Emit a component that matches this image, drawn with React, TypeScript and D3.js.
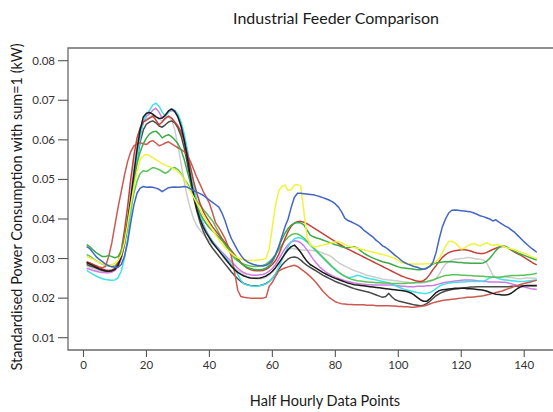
import React from "react";
import * as d3 from "d3";

// Standardised half-hourly load profiles, values in units of 1e-3 (kW, sum = 1)
const blue = [
  33.0,32.5,31.5,30.5,29.8,29.2,28.6,28.2,27.9,27.8,27.8,28.5,
  30.5,34.0,39.0,43.5,46.5,47.8,48.2,48.0,48.1,48.0,47.8,47.5,
  46.9,47.4,47.9,48.0,48.1,48.0,48.1,48.2,48.0,47.6,47.2,46.8,
  46.4,46.0,45.4,44.8,44.2,43.6,43.0,41.5,39.5,37.0,35.0,33.5,
  32.0,30.8,29.8,29.2,28.8,28.5,28.3,28.2,28.1,28.3,28.8,29.6,
  31.0,33.0,35.5,38.0,40.0,43.0,45.5,46.5,46.5,46.4,46.3,46.2,
  46.1,45.9,45.7,45.4,45.1,44.8,44.4,43.8,43.0,41.8,40.2,39.6,
  39.3,38.9,38.5,38.0,37.2,36.6,36.0,35.4,34.6,34.0,33.2,32.8,
  32.2,31.5,30.8,30.2,29.5,29.0,28.6,28.3,28.0,27.8,27.5,27.3,
  27.5,28.0,29.0,31.5,35.0,38.0,40.0,41.5,42.2,42.3,42.2,42.1,
  42.0,41.9,41.8,41.5,41.2,40.8,40.6,40.3,40.0,39.5,39.8,39.2,
  38.7,38.2,37.8,37.2,36.6,35.8,35.0,34.2,33.5,32.8,32.2,31.6,
];
const yellow = [
  30.5,30.2,29.8,29.4,29.0,28.7,28.5,28.4,28.5,28.8,29.5,31.0,
  34.0,38.5,43.5,48.0,52.0,55.0,56.0,56.3,56.0,55.5,55.0,54.5,
  54.0,53.6,53.3,53.0,52.5,52.0,51.2,50.0,48.5,47.0,45.5,44.0,
  42.5,41.0,39.8,38.5,37.2,36.0,34.8,33.8,32.8,32.0,31.3,30.7,
  30.2,29.9,29.7,29.6,29.5,29.5,29.6,29.7,29.8,30.0,32.5,38.0,
  43.5,47.0,48.2,48.6,47.2,47.4,48.6,48.7,48.3,42.0,35.5,33.5,
  33.0,33.0,33.2,33.4,33.6,33.8,34.0,34.2,34.3,34.0,33.5,33.2,
  33.0,32.8,32.6,32.4,32.2,32.0,31.8,31.6,31.4,31.2,31.0,30.8,
  30.6,30.3,30.0,29.5,29.0,28.8,28.7,28.6,28.6,28.6,28.6,28.6,
  28.7,28.7,28.8,29.3,30.0,31.5,33.0,34.3,34.4,34.0,33.2,32.4,
  32.6,33.2,33.6,33.8,33.5,33.2,33.6,34.0,33.6,33.3,33.5,33.4,
  33.2,32.9,32.6,32.4,32.2,31.9,31.6,31.3,31.0,30.6,30.3,30.0,
];
const redLow = [
  29.0,28.8,28.5,28.2,27.9,27.7,28.0,30.5,34.0,38.5,43.0,47.0,
  51.0,54.5,57.0,58.5,59.0,59.3,59.0,58.8,59.5,59.8,59.2,58.5,
  58.8,59.2,59.5,59.0,58.5,58.0,57.5,57.0,56.0,54.5,52.5,50.5,
  48.8,47.0,45.5,44.0,41.5,39.0,37.8,36.5,35.0,33.0,30.5,26.5,
  22.0,20.4,20.2,20.1,20.0,20.0,20.0,20.0,20.0,20.2,23.0,24.0,
  25.5,26.8,27.3,27.6,27.9,28.1,28.3,28.0,27.4,26.8,26.2,25.5,
  24.7,23.8,22.8,21.8,21.0,20.2,19.6,19.1,18.8,18.6,18.5,18.4,
  18.4,18.3,18.3,18.3,18.3,18.2,18.2,18.2,18.1,18.1,18.1,18.1,
  18.1,18.0,18.0,17.9,17.9,17.8,17.8,17.7,17.7,17.8,17.9,18.0,
  18.2,18.5,18.8,19.0,19.2,19.4,19.5,19.6,19.7,19.8,19.9,20.0,
  20.1,20.2,20.2,20.3,20.4,20.5,20.6,20.8,21.0,21.2,21.4,21.6,
  21.8,22.1,22.4,22.7,23.0,23.2,23.5,23.7,23.9,24.1,24.3,24.5,
];
const redHigh = [
  29.2,28.9,28.5,28.1,27.7,27.4,27.1,27.0,27.1,27.5,29.0,32.0,
  37.0,43.0,50.0,56.0,60.5,63.0,64.5,65.0,65.5,66.0,65.0,63.8,
  64.5,65.5,66.0,65.5,64.5,63.5,62.0,59.5,56.5,53.0,49.5,46.5,
  44.0,42.0,40.5,39.2,38.0,37.0,36.0,35.0,34.0,33.0,32.0,31.0,
  30.0,29.0,28.2,27.6,27.2,27.0,26.9,26.9,27.0,27.3,27.8,28.5,
  29.5,31.0,33.0,35.0,36.8,38.2,39.0,39.3,39.4,39.2,38.8,38.3,
  37.8,37.3,36.8,36.3,35.8,35.3,34.8,34.3,33.8,33.3,32.8,32.4,
  32.0,31.6,31.2,30.8,30.4,30.0,29.6,29.2,28.8,28.4,28.0,27.6,
  27.2,26.8,26.4,26.0,25.6,25.3,25.0,24.8,24.5,24.3,24.2,24.4,
  25.0,26.0,27.2,28.2,29.3,30.3,31.0,31.5,31.8,32.0,32.1,32.2,
  32.2,32.1,31.9,31.6,31.4,31.3,31.3,31.5,31.9,32.3,32.6,32.9,
  33.1,33.0,32.6,32.1,31.6,31.2,30.8,30.3,29.8,29.3,28.8,28.4,
];
const green = [
  33.5,33.0,32.2,31.5,31.0,30.5,30.5,30.8,30.5,30.2,30.5,32.0,
  35.0,39.5,44.5,49.5,54.0,57.0,59.0,60.5,61.5,62.0,62.2,61.5,
  60.5,61.0,61.3,60.8,60.0,59.0,57.5,55.0,52.0,49.0,46.0,43.5,
  41.5,40.0,38.8,37.8,37.0,36.2,35.4,34.6,33.6,32.6,31.6,30.6,
  29.6,28.8,28.2,27.8,27.5,27.3,27.2,27.2,27.3,27.6,28.2,29.2,
  30.8,32.8,34.8,36.4,37.6,38.5,38.9,39.1,39.0,38.5,37.2,36.0,
  35.5,35.2,35.0,34.7,34.4,34.1,33.8,33.5,33.3,33.0,32.8,32.7,
  32.9,33.0,32.6,32.0,31.4,30.9,30.5,30.1,29.8,29.5,29.2,29.0,
  28.8,28.5,28.2,27.9,27.7,27.6,27.5,27.4,27.3,27.2,27.2,27.3,
  27.6,28.1,28.6,28.9,29.0,29.1,29.2,29.2,29.2,29.1,29.0,29.0,
  28.9,28.9,28.8,28.8,28.8,28.8,28.9,29.3,30.0,31.0,32.0,32.8,
  33.2,33.1,32.7,32.2,31.8,31.4,31.1,30.8,30.5,30.2,29.9,29.6,
];
const lightGreen = [
  31.0,30.6,30.0,29.5,29.0,28.6,28.3,28.1,28.0,28.2,29.0,31.0,
  34.0,38.0,42.5,46.5,49.5,51.5,52.2,52.0,52.5,53.0,52.8,52.5,
  52.0,51.5,52.0,52.8,53.0,52.5,51.5,50.0,49.0,47.5,46.0,44.5,
  43.5,42.5,41.5,40.5,39.5,38.0,36.5,35.0,33.5,32.2,31.0,30.0,
  29.4,28.9,28.6,28.3,28.1,28.0,28.0,28.1,28.3,28.6,29.2,30.0,
  31.0,32.2,33.4,34.5,35.4,36.0,36.3,36.2,35.8,35.2,34.4,33.6,
  32.8,32.0,31.2,30.4,29.6,28.8,28.0,27.3,26.6,26.0,25.5,25.1,
  24.8,24.6,24.4,24.3,24.2,24.1,24.0,24.0,23.9,23.9,23.8,23.8,
  23.8,23.7,23.7,23.7,23.7,23.7,23.8,23.8,23.9,24.0,24.0,24.1,
  24.2,24.4,24.6,24.9,25.2,25.5,25.7,25.8,25.9,25.9,25.9,25.8,
  25.8,25.7,25.7,25.6,25.6,25.5,25.5,25.4,25.4,25.3,25.3,25.3,
  25.4,25.5,25.6,25.7,25.7,25.7,25.8,25.8,25.9,26.0,26.1,26.3,
];
const cyan = [
  27.0,26.5,26.0,25.6,25.2,24.9,24.7,24.6,24.5,24.6,25.2,26.8,
  30.0,35.0,41.0,48.0,55.0,60.5,64.5,66.5,67.5,68.8,69.3,68.5,
  67.0,66.0,67.0,67.8,67.5,66.5,64.5,61.5,57.5,53.0,48.5,44.5,
  41.0,38.5,36.8,35.5,34.3,33.2,32.2,31.2,30.3,29.4,28.5,27.5,
  26.0,24.5,23.6,23.3,23.1,23.0,23.0,23.1,23.3,23.6,24.2,25.0,
  26.2,27.8,29.6,31.4,33.0,34.2,35.0,35.3,35.2,34.8,34.2,33.4,
  32.6,31.8,31.0,30.2,29.4,28.6,27.8,27.1,26.5,26.0,25.6,25.3,
  25.2,25.5,25.8,25.6,25.3,25.1,24.9,24.8,24.6,24.4,24.2,24.0,
  23.8,23.5,23.2,22.8,22.5,22.2,22.0,21.8,21.6,21.4,21.3,21.2,
  21.2,21.4,21.8,22.4,23.0,23.4,23.6,23.8,23.9,24.0,24.0,24.1,
  24.1,24.2,24.2,24.2,24.2,24.2,24.3,24.6,25.1,25.4,25.2,24.9,
  24.7,24.6,24.5,24.4,24.3,24.2,24.2,24.2,24.3,24.4,24.5,24.6,
];
const magenta = [
  27.5,27.3,27.0,26.8,26.6,26.5,26.4,26.4,26.6,27.0,28.0,30.0,
  33.5,38.5,44.5,51.0,57.0,61.5,64.5,66.0,66.5,67.5,68.0,67.0,
  65.5,66.0,67.0,67.5,67.0,65.8,63.5,60.0,56.0,51.5,47.5,44.0,
  41.0,38.8,37.0,35.6,34.4,33.4,32.5,31.6,30.8,30.0,29.2,28.4,
  27.6,26.9,26.4,26.1,25.9,25.8,25.8,25.9,26.0,26.3,26.8,27.5,
  28.5,29.8,31.2,32.5,33.5,34.2,34.5,34.4,34.0,33.2,32.2,31.0,
  29.8,28.8,27.9,27.2,26.6,26.1,25.7,25.3,25.0,24.7,24.4,24.2,
  24.0,23.8,23.7,23.6,23.5,23.4,23.4,23.3,23.3,23.3,23.3,23.3,
  23.3,23.3,23.2,23.1,23.0,23.0,22.9,22.9,22.9,23.0,23.0,23.0,
  23.1,23.1,23.2,23.4,23.6,23.8,24.0,24.1,24.2,24.3,24.4,24.5,
  24.6,24.6,24.6,24.5,24.4,24.3,24.2,24.2,24.1,24.1,24.1,24.1,
  24.0,24.0,23.8,23.6,23.4,23.2,23.0,22.8,22.6,22.4,22.3,22.2,
];
const black = [
  29.0,28.6,28.2,27.8,27.4,27.1,26.9,26.8,26.9,27.3,28.3,30.5,
  34.0,39.0,45.0,51.5,57.5,62.5,65.8,66.7,66.9,66.5,65.8,65.4,
  65.5,66.3,67.3,67.8,67.2,65.8,63.5,60.0,55.5,50.5,46.0,42.5,
  40.0,38.0,36.5,35.2,34.0,33.0,32.0,31.0,30.0,29.0,28.0,27.2,
  26.5,26.0,25.6,25.3,25.1,25.0,25.0,25.1,25.3,25.6,26.1,26.8,
  27.7,28.8,30.0,31.2,32.3,33.0,33.4,32.6,31.6,30.4,29.3,28.5,
  28.0,27.5,27.0,26.5,26.1,25.7,25.3,25.0,24.7,24.4,24.1,23.8,
  23.6,23.4,23.3,23.2,23.1,23.0,22.9,22.8,22.7,22.6,22.5,22.4,
  22.3,22.2,22.1,22.0,21.9,21.8,21.6,21.3,20.8,20.2,19.6,19.2,
  19.2,19.8,20.6,21.4,21.9,22.1,22.2,22.3,22.4,22.5,22.5,22.5,
  22.5,22.4,22.4,22.3,22.2,22.1,22.0,21.8,21.5,21.2,21.0,20.9,
  20.8,20.8,20.9,21.3,21.9,22.5,22.9,23.1,23.2,23.2,23.2,23.2,
];
const darkGray = [
  28.5,28.2,27.9,27.6,27.3,27.0,26.8,26.7,26.8,27.2,28.2,30.2,
  33.5,38.0,43.5,49.5,55.0,59.5,62.5,64.0,64.5,64.8,64.3,63.5,
  63.2,63.8,64.5,64.8,64.3,63.0,61.0,58.0,54.0,49.5,45.5,42.0,
  39.2,37.0,35.2,33.8,32.6,31.6,30.6,29.6,28.6,27.6,26.6,25.7,
  24.9,24.2,23.7,23.4,23.2,23.1,23.1,23.2,23.4,23.7,24.2,25.0,
  26.0,27.2,28.3,29.2,29.9,30.3,30.4,30.2,29.6,28.9,28.3,27.8,
  27.3,26.8,26.3,25.8,25.4,25.0,24.6,24.2,23.9,23.6,23.3,23.0,
  22.7,22.4,22.2,22.0,21.8,21.6,21.4,21.1,20.8,20.5,20.2,20.4,
  21.2,20.3,19.6,19.3,19.1,18.9,18.7,18.5,18.3,18.2,18.1,18.2,
  18.6,19.2,19.9,20.6,21.1,21.5,21.8,22.0,22.2,22.3,22.4,22.5,
  22.6,22.7,22.8,22.8,22.9,22.9,22.9,22.9,22.9,22.9,22.9,22.9,
  22.9,22.9,22.9,23.0,23.0,23.0,23.1,23.1,23.1,23.1,23.1,23.1,
];
const lightGray = [
  28.0,27.8,27.5,27.2,27.0,26.8,26.7,26.7,26.9,27.5,28.8,31.2,
  35.0,40.5,47.0,53.5,59.0,62.5,64.5,65.3,65.8,66.2,66.0,65.3,
  64.8,65.2,65.8,65.0,62.5,58.5,54.0,49.5,45.5,42.5,40.0,38.3,
  37.2,36.2,35.3,34.5,33.7,33.0,32.0,30.8,29.7,28.9,28.3,27.6,
  27.0,26.4,25.9,25.5,25.2,25.0,24.9,24.9,25.0,25.3,25.8,26.6,
  27.6,28.8,30.0,31.2,32.0,32.6,32.5,32.3,32.2,32.1,32.1,32.1,
  32.0,31.9,31.7,31.4,31.1,30.8,30.3,29.6,29.0,28.5,28.1,27.7,
  27.3,27.0,26.7,26.4,26.1,25.8,25.6,25.4,25.2,25.0,24.8,24.7,
  24.6,24.5,24.4,24.3,24.2,24.1,24.0,23.9,23.8,23.8,23.8,23.9,
  24.0,24.2,24.5,25.0,26.0,27.5,28.6,29.2,29.6,29.8,29.9,30.0,
  30.1,30.3,30.2,30.0,29.9,29.8,29.6,29.0,27.5,25.8,25.3,25.2,
  25.3,25.4,25.3,25.2,25.0,24.9,24.9,25.0,25.1,25.1,25.0,25.0,
];

const xTicks = [0, 20, 40, 60, 80, 100, 120, 140];
const yTicks = [0.01, 0.02, 0.03, 0.04, 0.05, 0.06, 0.07, 0.08];

const series = [
  { name: "lightGray", values: lightGray, color: "#cdcdcd" },
  { name: "darkGray", values: darkGray, color: "#4a4a4a" },
  { name: "magenta", values: magenta, color: "#d27ae4" },
  { name: "cyan", values: cyan, color: "#3fe2e8" },
  { name: "lightGreen", values: lightGreen, color: "#5cc25a" },
  { name: "redLow", values: redLow, color: "#cc5a50" },
  { name: "redHigh", values: redHigh, color: "#c2423a" },
  { name: "green", values: green, color: "#3aad45" },
  { name: "black", values: black, color: "#1c1c1c" },
  { name: "yellow", values: yellow, color: "#f2f23c" },
  { name: "blue", values: blue, color: "#4466c4" },
];

const W = 553;
const H = 412;
const frame = { left: 68, top: 48, bottom: 350, right: 560 };
const FONT = "Lato, 'Open Sans', sans-serif";

export default function App() {
  const x = d3.scaleLinear().domain([0, 140]).range([83.5, 524.2]);
  const y = d3.scaleLinear().domain([0.01, 0.08]).range([337.7, 60.7]);

  const line = d3
    .line<number>()
    .x((_, i) => x(i + 1))
    .y((v) => y(v / 1000))
    .curve(d3.curveLinear);

  return (
    <svg
      width={W}
      height={H}
      style={{ position: "absolute", left: 0, top: 0, background: "#fff" }}
      fontFamily={FONT}
    >
      <rect width={W} height={H} fill="#fff" />
      <text x={336} y={24} textAnchor="middle" fontSize={16} fill="#1a1a1a">
        Industrial Feeder Comparison
      </text>

      {/* plot frame */}
      <path
        d={`M${frame.right},${frame.top}H${frame.left}V${frame.bottom}H${frame.right}`}
        fill="none"
        stroke="#6a6a6a"
        strokeWidth={1.3}
      />

      {/* y axis */}
      {yTicks.map((t) => (
        <g key={t} transform={`translate(0,${y(t)})`}>
          <line x1={58} x2={frame.left} stroke="#555" strokeWidth={1.1} />
          <text x={55} dy="0.35em" textAnchor="end" fontSize={11.5} fill="#333">
            {d3.format(".2f")(t)}
          </text>
        </g>
      ))}

      {/* x axis */}
      {xTicks.map((t) => (
        <g key={t} transform={`translate(${x(t)},0)`}>
          <line y1={frame.bottom} y2={357} stroke="#555" strokeWidth={1.1} />
          <text y={369} textAnchor="middle" fontSize={11.5} fill="#333">
            {t}
          </text>
        </g>
      ))}

      <g>
        {series.map((s) => (
          <path
            key={s.name}
            d={line(s.values) || ""}
            fill="none"
            stroke={s.color}
            strokeWidth={1.5}
            strokeLinejoin="round"
          />
        ))}
      </g>

      <text x={325} y={406} textAnchor="middle" fontSize={14.5} fill="#1a1a1a">
        Half Hourly Data Points
      </text>
      <text
        transform="translate(22,207) rotate(-90)"
        textAnchor="middle"
        fontSize={14.5}
        fill="#1a1a1a"
      >
        Standardised Power Consumption with sum=1 (kW)
      </text>
    </svg>
  );
}
